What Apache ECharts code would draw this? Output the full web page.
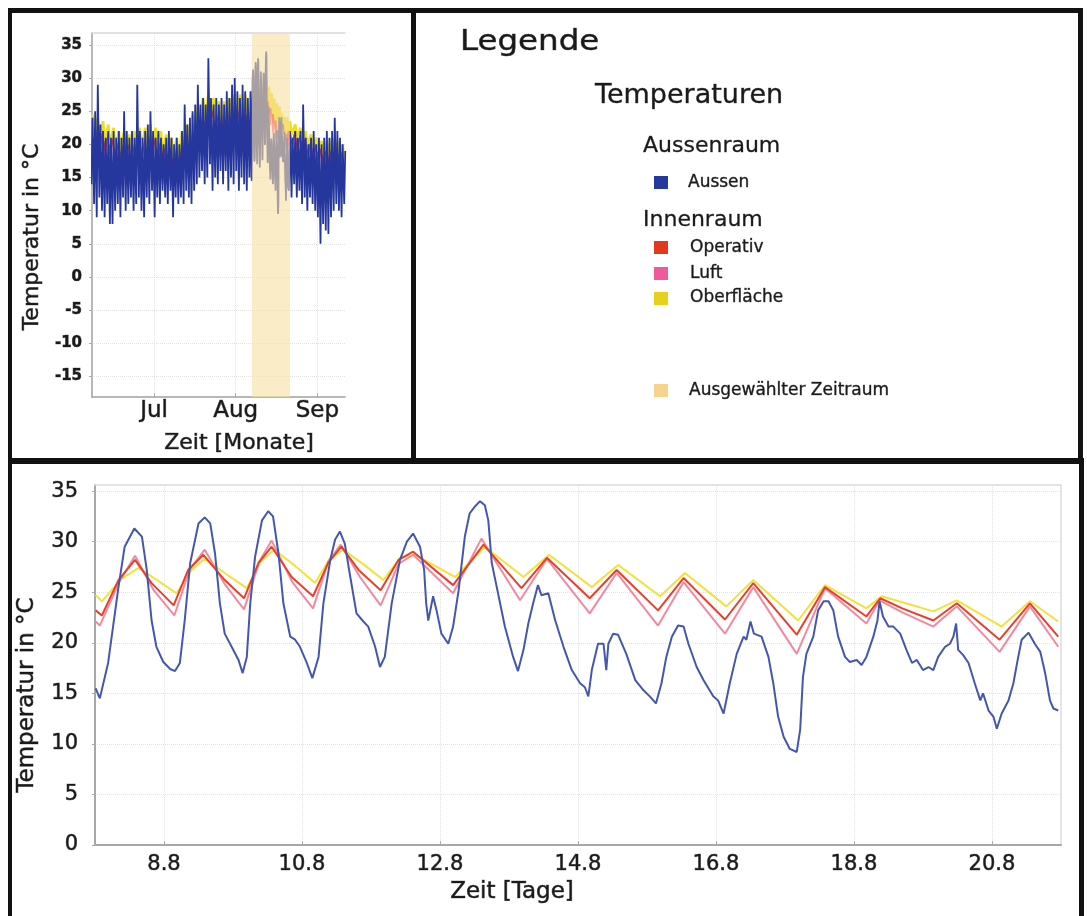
<!DOCTYPE html>
<html><head><meta charset="utf-8">
<script src="https://cdn.jsdelivr.net/npm/echarts@6/dist/echarts.min.js"></script>
<style>html,body{margin:0;padding:0;background:#fff}#c{width:1087px;height:916px}</style>
</head><body><div id="c"></div>
<script>
// ---------- overview chart (June – September), x = day counted from 1 Aug (1 Aug = 1) ----------
const monthTicks = [-30, 1, 32];
const monthLabels = ['Jul', 'Aug', 'Sep'];
const tempTicksTop = [-15, -10, -5, 0, 5, 10, 15, 20, 25, 30, 35];

// outdoor daily minima / maxima, 7 Jun – 6 Aug (first day = -54)
const ausTopStart = -54;
const ausTopHi = [24,25,29,23,22,21,22,21,22,21, 22,21,25,22,21,22,21,29,22,21, 22,23,25,22,21,22,21,20,21,22, 21,20,21,20,22,26,23,24,25,26, 29,26,27,26,33,27,26,27,26,27, 26,28,27,29,30,28,27,29,28,27,28];
const ausTopLo = [14,11,9,12,10,9,11,8,8,10, 11,9,12,10,11,12,10,11,12,10, 9,12,11,13,9,12,11,13,12,11, 13,9,12,11,12,11,13,12,11,13, 14,15,16,14,15,17,13,15,14,16, 14,16,13,15,14,16,13,15,14,13,15];
// outdoor daily minima / maxima, 21 Aug – 11 Sep
const ausTopStart2 = 21;
const ausTopHi2 = [22,21,22,21,22,26,21,20,21,22,20,21,20,21,22,21,22,24,22,21,20,19];
const ausTopLo2 = [13,12,14,12,13,11,12,10,12,11,10,9,5,8,7,6.5,9,10,11,10,9,11];

// indoor values per 2-day block (max, min), before and after the selected period
const inTopStart = -54;
const ofTopHi = [24.5,24,23.5,23,22.5,22,22,21.5,22,22.5,22.5,23,22.5,22,21.5,21,21,22,23,24.5,26,27,27.5,27,26.5,26.5,27,27.5,27.5,27.5];
const ofTopLo = [21,21,20.5,20,19.5,19,19,18.5,19,19.5,19.5,20,19.5,19,18.5,18,18,18.5,19.5,21,22.5,23.5,24,23.5,23,23,23.5,24,24,24.5];
const opTopHi = [23.5,23,22.5,22,21.5,21,21,20.5,21,21.5,21.5,22,21.5,21,20.5,20,20,21,22,23.5,25,26,26.5,26,25.5,25.5,26,26.5,26.5,26.5];
const opTopLo = [19.5,19.5,19,18.5,18,17.5,17.5,17,17.5,18,18,18.5,18,17.5,17,16.5,16.5,17,18,19.5,21,22,22.5,22,21.5,21.5,22,22.5,22.5,23];
const luTopHi = [23.5,23,22.5,22,21.5,21,21,20.5,21,21.5,21.5,22,21.5,21,20.5,20,20,21,22,23.5,25.5,26.5,27,26.5,26,26,26.5,27,27,27];
const luTopLo = [18.5,18.5,18,17.5,17,16.5,16.5,16,16.5,17,17,17.5,17,16.5,16,15.5,15.5,16,17,18.5,20,21,21.5,21,20.5,20.5,21,21.5,21.5,22];
const inTopStart2 = 21;
const ofTopHi2 = [23.5,23,22.5,22,21.5,21,20.5,20.5,21,20.5,20];
const ofTopLo2 = [21.5,21,20.5,20,19.5,19,18.5,18.5,18.5,18.5,18];
const opTopHi2 = [22.5,22,21.5,21,20.5,20,19.5,19.5,20,19.5,19];
const opTopLo2 = [20,19.5,19,18.5,18,17.5,17,17,17,17,16.5];
const luTopHi2 = [22.5,22,21.5,21,20.5,20,19.5,19.5,20,19.5,19];
const luTopLo2 = [19,18.5,18,17.5,17,16.5,16,16,16,16,15.5];

// selected period (highlighted)
const bandStart = 7.1, bandEnd = 21.6;

// ---------- detail chart (selected period), x = day of August ----------
const dayTicks = [8, 10, 12, 14, 16, 18, 20];
const tempTicksBottom = [0, 5, 10, 15, 20, 25, 30, 35];

const aussen = [[7.01,15.5],[7.07,14.5],[7.19,18],[7.34,25.5],[7.43,29.5],[7.57,31.3],[7.68,30.5],[7.75,27.2],[7.82,22.2],[7.89,19.6],[7.99,18.1],[8.09,17.4],[8.16,17.2],[8.23,18],[8.30,22.2],[8.38,27.9],[8.50,31.8],[8.59,32.4],[8.67,31.8],[8.74,28.8],[8.81,23.9],[8.88,20.9],[8.98,19.6],[9.08,18.3],[9.14,17],[9.20,18.6],[9.25,23.9],[9.32,28.5],[9.42,32.1],[9.51,33],[9.58,32.5],[9.66,28.8],[9.73,23.9],[9.83,20.6],[9.90,20.3],[9.97,19.6],[10.07,18],[10.15,16.5],[10.24,18.6],[10.31,23.9],[10.41,28.2],[10.48,30.2],[10.55,31],[10.62,29.8],[10.70,26.5],[10.79,22.9],[10.89,22.1],[10.96,21.6],[11.06,19.6],[11.13,17.6],[11.20,18.6],[11.30,23.9],[11.42,28.2],[11.52,30],[11.61,30.8],[11.71,29.5],[11.77,27.2],[11.80,23.9],[11.83,22.2],[11.90,24.6],[11.95,23.2],[12.02,20.9],[12.12,19.9],[12.19,21.6],[12.27,25.2],[12.36,30.5],[12.43,32.8],[12.51,33.5],[12.58,34],[12.65,33.6],[12.70,32.1],[12.75,27.9],[12.85,24.6],[12.94,21.6],[13.06,18.6],[13.13,17.2],[13.21,19.3],[13.28,21.9],[13.35,23.9],[13.42,25.7],[13.47,24.7],[13.57,24.9],[13.67,22.2],[13.79,19.6],[13.91,17.3],[14.03,16],[14.10,15.6],[14.15,14.7],[14.20,17.3],[14.29,19.9],[14.37,19.9],[14.41,17.3],[14.44,19.9],[14.51,20.9],[14.58,20.8],[14.70,18.9],[14.83,16.3],[14.95,15.3],[15.04,14.7],[15.13,14],[15.21,16],[15.28,18.6],[15.36,20.6],[15.45,21.7],[15.53,21.6],[15.60,19.9],[15.72,17.6],[15.82,16.3],[15.96,14.7],[16.03,14.3],[16.11,13],[16.20,16],[16.30,18.9],[16.40,20.6],[16.44,20.3],[16.50,22.1],[16.55,20.9],[16.66,20.6],[16.76,18.6],[16.83,16],[16.90,12.7],[16.98,10.7],[17.07,9.5],[17.17,9.2],[17.22,11.4],[17.26,16.6],[17.31,18.9],[17.41,20.6],[17.48,23.2],[17.56,24.1],[17.63,24.1],[17.70,23.2],[17.77,20.6],[17.87,18.6],[17.94,18.1],[18.04,18.3],[18.11,17.8],[18.18,18.6],[18.28,20.6],[18.34,22.2],[18.37,24.1],[18.42,22.6],[18.50,21.6],[18.57,21.6],[18.67,20.9],[18.76,19.3],[18.84,18],[18.91,18.3],[19.00,17.3],[19.08,17.6],[19.15,17.3],[19.22,18.6],[19.32,19.6],[19.39,19.9],[19.44,20.6],[19.48,21.9],[19.51,19.3],[19.58,18.8],[19.66,18],[19.75,16],[19.83,14.3],[19.87,15],[19.95,13.3],[20.02,12.7],[20.07,11.5],[20.14,13],[20.24,14.3],[20.31,16],[20.38,18.6],[20.43,20.3],[20.53,21],[20.62,19.9],[20.70,19.1],[20.77,17],[20.84,14.3],[20.89,13.5],[20.96,13.3]];

const operativ = [[7.01,23.2],[7.10,22.7],[7.34,26.2],[7.58,28.2],[7.82,25.9],[8.14,23.7],[8.35,27.2],[8.57,28.7],[8.88,26.2],[9.16,24.4],[9.37,27.9],[9.56,29.5],[9.85,26.5],[10.16,24.6],[10.38,27.9],[10.57,29.5],[10.82,27.2],[11.14,25.2],[11.40,28.2],[11.61,29],[12.19,25.7],[12.63,29.7],[13.18,25.4],[13.55,28.4],[14.17,24.4],[14.56,27.2],[15.16,23.2],[15.53,26.4],[16.13,22.3],[16.54,25.9],[17.17,20.8],[17.58,25.5],[18.18,22.6],[18.38,24.4],[18.70,23.4],[19.15,22.2],[19.49,23.9],[20.11,20.3],[20.55,23.9],[20.96,20.6]];

const luft = [[7.01,22.1],[7.07,21.7],[7.35,26],[7.58,28.6],[7.85,25.2],[8.15,22.7],[8.37,27.2],[8.59,29.2],[8.88,25.8],[9.16,23.3],[9.38,28],[9.56,30.1],[9.86,26],[10.16,23.4],[10.38,28],[10.56,29.7],[10.84,26.5],[11.14,23.7],[11.40,27.8],[11.61,28.7],[12.19,24.9],[12.60,30.3],[13.16,24.2],[13.55,28.3],[14.17,22.9],[14.56,26.9],[15.16,21.7],[15.53,26],[16.13,20.9],[16.54,25.5],[17.17,18.9],[17.58,25.4],[18.18,21.9],[18.37,24.2],[18.70,23],[19.15,21.6],[19.49,23.6],[20.11,19.1],[20.55,23.6],[20.96,19.6]];

const oberflaeche = [[7.01,24.7],[7.10,24.1],[7.38,26.3],[7.63,27.4],[7.90,26.2],[8.18,24.9],[8.40,27.2],[8.59,28.3],[8.90,26.8],[9.20,25.4],[9.40,28],[9.60,29.2],[9.90,27.6],[10.19,25.9],[10.40,28.3],[10.60,29.2],[10.90,27.7],[11.18,26.2],[11.42,28.4],[11.64,28.7],[12.22,26.5],[12.65,29.5],[13.21,26.5],[13.58,28.7],[14.20,25.5],[14.58,27.7],[15.19,24.6],[15.55,26.9],[16.15,23.6],[16.54,26.2],[17.19,22.2],[17.58,25.7],[18.18,23.4],[18.40,24.6],[18.70,24],[19.15,23.1],[19.49,24.2],[20.14,21.6],[20.55,24.1],[20.96,22.1]];

// ---------- helpers building point lists from the arrays ----------
function dailyPoints(start, lo, hi) {
  const out = [];
  for (let i = 0; i < lo.length; i++) { out.push([start + i + 0.2, lo[i]]); out.push([start + i + 0.6, hi[i]]); }
  return out;
}
function blockPoints(start, hi, lo) {
  const out = [];
  for (let k = 0; k < hi.length; k++) { out.push([start + 2 * k + 0.6, hi[k]]); out.push([start + 2 * k + 1.2, lo[k]]); }
  return out;
}

const FONT = '"DejaVu Sans", sans-serif';
const txt = '#1a1a1a';

const topAussen = dailyPoints(ausTopStart, ausTopLo, ausTopHi).concat(aussen, dailyPoints(ausTopStart2, ausTopLo2, ausTopHi2));
const topOber = blockPoints(inTopStart, ofTopHi, ofTopLo).concat(oberflaeche, blockPoints(inTopStart2, ofTopHi2, ofTopLo2));
const topOper = blockPoints(inTopStart, opTopHi, opTopLo).concat(operativ, blockPoints(inTopStart2, opTopHi2, opTopLo2));
const topLuft = blockPoints(inTopStart, luTopHi, luTopLo).concat(luft, blockPoints(inTopStart2, luTopHi2, luTopLo2));

function lineSeries(data, color, width, xi, yi, z) {
  return { type: 'line', data: data, xAxisIndex: xi, yAxisIndex: yi, symbol: 'none', showSymbol: false,
    lineStyle: { color: color, width: width }, itemStyle: { color: color }, z: z, silent: true, animation: false };
}

const labelStyle = (size, margin, weight) => ({ fontFamily: FONT, fontSize: size, color: txt, margin: margin,
  fontWeight: weight || 'normal', textBorderColor: 'rgba(30,30,30,0.7)', textBorderWidth: 0.7 });

const option = {
  animation: false,
  backgroundColor: '#fff',
  grid: [
    { left: 92, top: 33, width: 253, height: 364 },
    { left: 95, top: 485, width: 966, height: 360 }
  ],
  xAxis: [
    { type: 'value', gridIndex: 0, min: -53.6, max: 42.5, position: 'bottom',
      axisLine: { show: true, onZero: false, lineStyle: { color: '#a0a0a0', width: 1.5 } },
      axisTick: { show: true, inside: true, length: 4, customValues: monthTicks, lineStyle: { color: '#aaa' } },
      axisLabel: Object.assign(labelStyle(23, 3), { customValues: monthTicks, formatter: v => monthLabels[monthTicks.indexOf(v)] }),
      splitLine: { show: true, lineStyle: { color: '#e2e2e2', type: 'dotted' } } },
    { type: 'value', gridIndex: 0, min: -53.6, max: 42.5, position: 'top',
      axisLine: { show: true, onZero: false, lineStyle: { color: '#d8d8d8', width: 1.5 } }, axisTick: { show: false }, axisLabel: { show: false }, splitLine: { show: false } },
    { type: 'value', gridIndex: 1, min: 7, max: 21, position: 'bottom',
      axisLine: { show: true, onZero: false, lineStyle: { color: '#a8a8a8', width: 2 } },
      axisTick: { show: true, inside: true, length: 4, customValues: dayTicks, lineStyle: { color: '#aaa' } },
      axisLabel: Object.assign(labelStyle(21, 9), { customValues: dayTicks, formatter: v => v + '.8' }),
      splitLine: { show: true, lineStyle: { color: '#e2e2e2', type: 'dotted' } } },
    { type: 'value', gridIndex: 1, min: 7, max: 21, position: 'top',
      axisLine: { show: true, onZero: false, lineStyle: { color: '#dcdcdc', width: 1.5 } }, axisTick: { show: false }, axisLabel: { show: false }, splitLine: { show: false } }
  ],
  yAxis: [
    { type: 'value', gridIndex: 0, min: -18.1, max: 36.8,
      axisLine: { show: true, onZero: false, lineStyle: { color: '#a0a0a0', width: 1.5 } },
      axisTick: { show: true, inside: false, length: 3, customValues: tempTicksTop, lineStyle: { color: '#aaa' } },
      axisLabel: Object.assign(labelStyle(15, 10, 'bold'), { customValues: tempTicksTop }),
      splitLine: { show: true, lineStyle: { color: '#e2e2e2', type: 'dotted' } } },
    { type: 'value', gridIndex: 1, min: 0, max: 35.6,
      axisLine: { show: true, onZero: false, lineStyle: { color: '#a8a8a8', width: 2 } },
      axisTick: { show: true, inside: false, length: 3, customValues: tempTicksBottom, lineStyle: { color: '#aaa' } },
      axisLabel: Object.assign(labelStyle(21, 17), { customValues: tempTicksBottom }),
      splitLine: { show: true, lineStyle: { color: '#e2e2e2', type: 'dotted' } } },
    { type: 'value', gridIndex: 1, min: 0, max: 35.6, position: 'right',
      axisLine: { show: true, onZero: false, lineStyle: { color: '#dcdcdc', width: 1.5 } }, axisTick: { show: false }, axisLabel: { show: false }, splitLine: { show: false } }
  ],
  series: [
    lineSeries(topLuft, '#f0558c', 1.5, 0, 0, 2),
    lineSeries(topOper, '#e63222', 1.5, 0, 0, 3),
    lineSeries(topOber, '#ebdf1e', 2.6, 0, 0, 4),
    lineSeries(topAussen, '#25379c', 1.8, 0, 0, 5),
    { type: 'line', xAxisIndex: 0, yAxisIndex: 0, data: [], z: 10, silent: true,
      markArea: { silent: true, z: 10, itemStyle: { color: 'rgba(248,224,165,0.61)' },
        data: [[{ xAxis: bandStart }, { xAxis: bandEnd }]] } },
    lineSeries(oberflaeche, '#f1e23c', 2, 2, 1, 2),
    lineSeries(luft, '#f3899f', 2, 2, 1, 3),
    lineSeries(operativ, '#e6402c', 2, 2, 1, 4),
    lineSeries(aussen, '#4556ad', 2, 2, 1, 5)
  ],
  graphic: [
    // frame
    { type: 'rect', shape: { x: 8, y: 8, width: 1075, height: 5 }, style: { fill: '#111' }, z: 100 },
    { type: 'rect', shape: { x: 8, y: 8, width: 4, height: 454 }, style: { fill: '#111' }, z: 100 },
    { type: 'rect', shape: { x: 411, y: 8, width: 5, height: 454 }, style: { fill: '#111' }, z: 100 },
    { type: 'rect', shape: { x: 1078, y: 8, width: 5, height: 454 }, style: { fill: '#111' }, z: 100 },
    { type: 'rect', shape: { x: 8, y: 458, width: 1076, height: 6 }, style: { fill: '#111' }, z: 100 },
    { type: 'rect', shape: { x: 8, y: 458, width: 4, height: 458 }, style: { fill: '#111' }, z: 100 },
    { type: 'rect', shape: { x: 1079, y: 458, width: 5, height: 458 }, style: { fill: '#111' }, z: 100 },
    // axis titles
    { type: 'text', x: 32, y: 237, rotation: Math.PI / 2, style: { text: 'Temperatur in °C', font: '22px ' + FONT, fill: txt, align: 'center', verticalAlign: 'middle', stroke: 'rgba(30,30,30,0.7)', lineWidth: 0.7 }, z: 100 },
    { type: 'text', x: 239, y: 443, style: { text: 'Zeit [Monate]', font: '22px ' + FONT, fill: txt, align: 'center', verticalAlign: 'middle', stroke: 'rgba(30,30,30,0.7)', lineWidth: 0.7 }, z: 100 },
    { type: 'text', x: 27, y: 695, rotation: Math.PI / 2, style: { text: 'Temperatur in °C', font: '23px ' + FONT, fill: txt, align: 'center', verticalAlign: 'middle', stroke: 'rgba(30,30,30,0.7)', lineWidth: 0.7 }, z: 100 },
    { type: 'text', x: 512, y: 892, style: { text: 'Zeit [Tage]', font: '23px ' + FONT, fill: txt, align: 'center', verticalAlign: 'middle', stroke: 'rgba(30,30,30,0.7)', lineWidth: 0.7 }, z: 100 },
    // legend panel
    { type: 'text', x: 460, y: 42, scaleX: 1.12, style: { text: 'Legende', font: '29px ' + FONT, fill: txt, align: 'left', verticalAlign: 'middle', stroke: 'rgba(30,30,30,0.7)', lineWidth: 0.6 }, z: 100 },
    { type: 'text', x: 595, y: 96, style: { text: 'Temperaturen', font: '27px ' + FONT, fill: txt, align: 'left', verticalAlign: 'middle', stroke: 'rgba(30,30,30,0.7)', lineWidth: 0.5 }, z: 100 },
    { type: 'text', x: 643, y: 146, style: { text: 'Aussenraum', font: '22px ' + FONT, fill: txt, align: 'left', verticalAlign: 'middle', stroke: 'rgba(30,30,30,0.7)', lineWidth: 0.4 }, z: 100 },
    { type: 'rect', shape: { x: 654, y: 176, width: 14, height: 13 }, style: { fill: '#233a9c' }, z: 100 },
    { type: 'text', x: 688, y: 182.5, style: { text: 'Aussen', font: '17px ' + FONT, fill: txt, align: 'left', verticalAlign: 'middle', stroke: 'rgba(30,30,30,0.7)', lineWidth: 0.5 }, z: 100 },
    { type: 'text', x: 643, y: 220, style: { text: 'Innenraum', font: '22px ' + FONT, fill: txt, align: 'left', verticalAlign: 'middle', stroke: 'rgba(30,30,30,0.7)', lineWidth: 0.4 }, z: 100 },
    { type: 'rect', shape: { x: 654, y: 241, width: 14, height: 13 }, style: { fill: '#e2381c' }, z: 100 },
    { type: 'text', x: 690, y: 247.5, style: { text: 'Operativ', font: '17px ' + FONT, fill: txt, align: 'left', verticalAlign: 'middle', stroke: 'rgba(30,30,30,0.7)', lineWidth: 0.5 }, z: 100 },
    { type: 'rect', shape: { x: 654, y: 267, width: 14, height: 13 }, style: { fill: '#ee5a9a' }, z: 100 },
    { type: 'text', x: 690, y: 274, style: { text: 'Luft', font: '17px ' + FONT, fill: txt, align: 'left', verticalAlign: 'middle', stroke: 'rgba(30,30,30,0.7)', lineWidth: 0.5 }, z: 100 },
    { type: 'rect', shape: { x: 654, y: 292, width: 14, height: 13 }, style: { fill: '#e6d21c' }, z: 100 },
    { type: 'text', x: 690, y: 297.5, style: { text: 'Oberfläche', font: '17px ' + FONT, fill: txt, align: 'left', verticalAlign: 'middle', stroke: 'rgba(30,30,30,0.7)', lineWidth: 0.5 }, z: 100 },
    { type: 'rect', shape: { x: 654, y: 384, width: 14, height: 13 }, style: { fill: '#f6d48e' }, z: 100 },
    { type: 'text', x: 689, y: 390.5, style: { text: 'Ausgewählter Zeitraum', font: '17px ' + FONT, fill: txt, align: 'left', verticalAlign: 'middle', stroke: 'rgba(30,30,30,0.7)', lineWidth: 0.5 }, z: 100 }
  ]
};

const chart = echarts.init(document.getElementById('c'), null, { renderer: 'canvas' });
chart.setOption(option);
</script>
</body></html>
